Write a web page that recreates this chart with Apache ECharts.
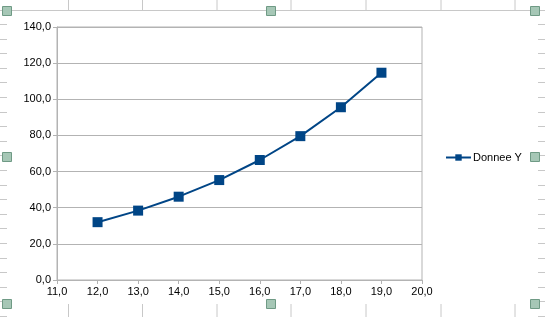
<!DOCTYPE html>
<html>
<head>
<meta charset="utf-8">
<script src="https://cdn.jsdelivr.net/npm/echarts@6/dist/echarts.min.js"></script>
<style>
html,body{margin:0;padding:0;background:#fff;}
#c{width:545px;height:317px;}
</style>
</head>
<body>
<div id="c"></div>
<script>
var seriesName = "Donnee Y";
var xValues = [12, 13, 14, 15, 16, 17, 18, 19];
var yValues = [32.0, 38.4, 46.1, 55.3, 66.4, 79.6, 95.6, 114.7];

var fmt = function (v) { return Number(v).toFixed(1).replace('.', ','); };
var data = xValues.map(function (x, i) { return [x, yValues[i]]; });

// spreadsheet background decorations (cell lines and selection handles)
var deco = [];
var colX = [68.5, 142.5, 217, 291, 366, 441, 515];
deco.push({type:'line', shape:{x1:0,y1:10.5,x2:545,y2:10.5}, style:{stroke:'#c8c8c8',lineWidth:1}, silent:true, z:-10});
colX.forEach(function (x) {
  deco.push({type:'line', shape:{x1:x,y1:0,x2:x,y2:10}, style:{stroke:'#c8c8c8',lineWidth:1}, silent:true, z:-10});
  deco.push({type:'line', shape:{x1:x,y1:304,x2:x,y2:317}, style:{stroke:'#c8c8c8',lineWidth:1}, silent:true, z:-10});
});
for (var k = 0; k < 21; k++) {
  var yy = Math.round(24 + 14.6 * k) + 0.5;
  if (yy > 317) break;
  deco.push({type:'line', shape:{x1:0,y1:yy,x2:7,y2:yy}, style:{stroke:'#c8c8c8',lineWidth:1}, silent:true, z:-10});
  deco.push({type:'line', shape:{x1:538,y1:yy,x2:545,y2:yy}, style:{stroke:'#c8c8c8',lineWidth:1}, silent:true, z:-10});
}
[[7,11],[271,11],[535,11],[7,157],[535,157],[7,304],[271,304],[535,304]].forEach(function (p) {
  deco.push({type:'rect', shape:{x:p[0]-4.5,y:p[1]-4.5,width:9,height:9},
    style:{fill:'#a6c7b6',stroke:'#6f9a85',lineWidth:1}, silent:true, z:10});
});

var chart = echarts.init(document.getElementById('c'), null, {renderer:'canvas'});
chart.setOption({
  animation: false,
  backgroundColor: '#ffffff',
  textStyle: {fontFamily: 'Liberation Sans'},
  grid: {left: 57, right: 123, top: 27, bottom: 37, show: true, borderColor: '#b3b3b3', borderWidth: 1},
  legend: {
    data: [seriesName],
    left: 440, top: 147,
    itemWidth: 25, itemHeight: 8,
    itemGap: 4,
    textStyle: {fontSize: 11, color: '#000', fontFamily: 'Liberation Sans', padding:[0,0,0,-3]}
  },
  xAxis: {
    type: 'value', min: 11, max: 20, interval: 1,
    axisLine: {lineStyle: {color: '#b3b3b3'}},
    axisTick: {show: true, length: 4, lineStyle: {color: '#b3b3b3'}},
    splitLine: {show: false},
    axisLabel: {formatter: fmt, fontSize: 11, color: '#000', margin: 6}
  },
  yAxis: {
    type: 'value', min: 0, max: 140, interval: 20,
    axisLine: {show: true, lineStyle: {color: '#b3b3b3'}},
    axisTick: {show: true, length: 4, lineStyle: {color: '#b3b3b3'}},
    splitLine: {show: true, lineStyle: {color: '#b3b3b3'}},
    axisLabel: {formatter: fmt, fontSize: 11, color: '#000', margin: 6}
  },
  series: [{
    name: seriesName,
    type: 'line',
    data: data,
    symbol: 'rect',
    symbolSize: 10,
    lineStyle: {color: '#004586', width: 2},
    itemStyle: {color: '#004586'}
  }],
  graphic: deco
});
</script>
</body>
</html>
